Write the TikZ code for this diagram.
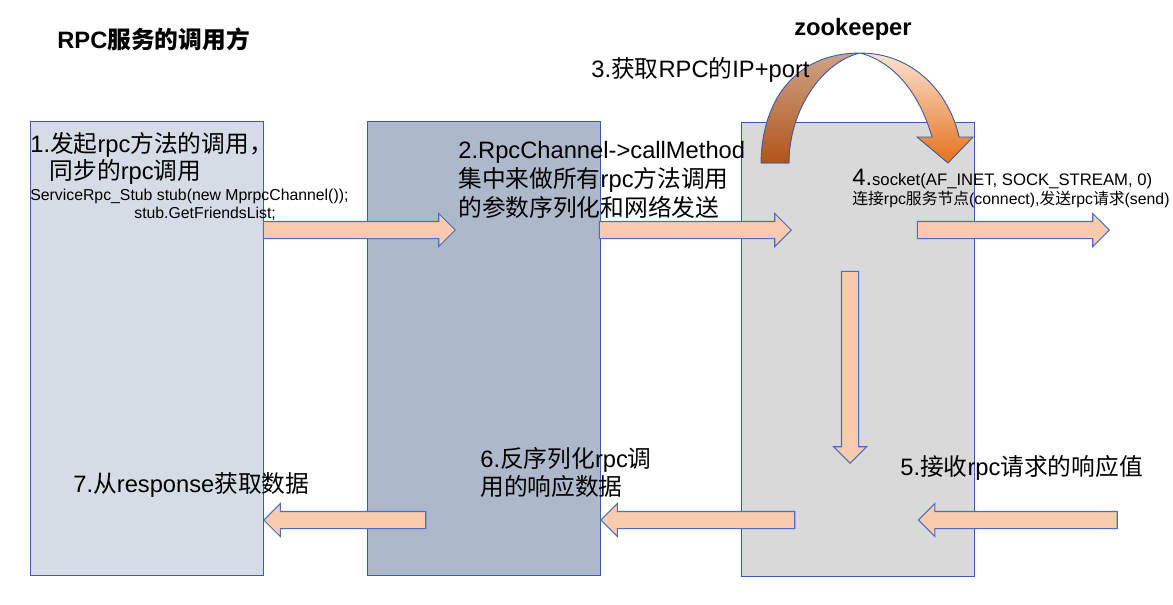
\documentclass[tikz,border=0pt]{standalone}
\usepackage{fontspec}
\setmainfont{Liberation Sans}
\newfontfamily\cjk{Noto Sans CJK SC}
\newcommand{\zh}[1]{{\cjk #1}}
\usetikzlibrary{shapes.arrows}
\definecolor{panelA}{HTML}{D6DCE5}
\definecolor{panelB}{HTML}{ADB9CA}
\definecolor{panelC}{HTML}{D9D9D9}
\definecolor{edgeblue}{HTML}{3B5CA8}
\definecolor{arrowfill}{HTML}{F8CBAD}
\definecolor{arrowedge}{HTML}{4A6FC0}
\definecolor{hopLtop}{HTML}{CDA487}
\definecolor{hopLbot}{HTML}{B2541A}
\definecolor{hopRtop}{HTML}{FBE3D0}
\definecolor{hopRbot}{HTML}{E5711C}

\begin{document}
\begin{tikzpicture}[x=0.02cm, y=-0.02cm,
  panel/.style={draw=edgeblue, line width=0.5pt, anchor=north west, minimum width=4.66cm, minimum height=9.08cm, inner sep=0pt},
  fatarrow/.style={single arrow, draw=arrowedge, fill=arrowfill, line width=0.6pt, inner xsep=0pt, inner ysep=0.16cm, single arrow head extend=0.16cm, single arrow tip angle=90},
  big/.style={font=\fontsize{13.5}{15.5}\selectfont, inner sep=0pt, anchor=base west, align=left},
  small/.style={font=\fontsize{9}{11}\selectfont, inner sep=0pt, anchor=base west}]
\useasboundingbox (0,0) rectangle (1173,605);
\fill[white] (0,0) rectangle (1173,605);

% the three stages
\node[panel, fill=panelA] (caller) at (30,121) {};
\node[panel, fill=panelB] (channel) at (367,121) {};
\node[panel, fill=panelC] (net) at (741,122) {};

% request going right
\node[fatarrow, minimum height=3.84cm] (go1) at (355,230) {};
\node[fatarrow, minimum height=3.84cm] (go2) at (691,230) {};
\node[fatarrow, minimum height=3.84cm] (go3) at (1009,230) {};
\node[fatarrow, minimum height=3.84cm, rotate=-90] (wait) at (850,363) {};
% response coming back
\node[fatarrow, minimum height=3.24cm, shape border rotate=180] (back1) at (349,520) {};
\node[fatarrow, minimum height=3.88cm, shape border rotate=180] (back2) at (702,520) {};
\node[fatarrow, minimum height=3.98cm, shape border rotate=180] (back3) at (1022,520) {};

% hop over zookeeper
\fill[top color=hopLtop, bottom color=hopLbot] (761,163) .. controls (762,95) and (800,53) .. (860,53) .. controls (822,62) and (789,110) .. (789,163) -- cycle;
\fill[top color=hopRtop, bottom color=hopRbot] (860,53) .. controls (915,53) and (950,95) .. (959,137) -- (973,137) -- (948,163) -- (917,137) -- (932,137) .. controls (920,95) and (895,62) .. (860,53) -- cycle;
\draw[edgeblue, line width=0.5pt] (761,163) .. controls (762,95) and (800,53) .. (860,53) .. controls (915,53) and (950,95) .. (959,137) -- (973,137) -- (948,163) -- (917,137) -- (932,137) .. controls (920,95) and (895,62) .. (860,53) .. controls (822,62) and (789,110) .. (789,163) -- cycle;

% labels (multi-line nodes sit on their last line)
\node[font=\fontsize{13.5}{16}\selectfont\bfseries, inner sep=0pt, anchor=base west] (title) at (57,49) {RPC\zh{服务的调用方}};
\node[font=\fontsize{13.5}{16}\selectfont\bfseries, inner sep=0pt, anchor=base] (zk) at (853,35) {zookeeper};
\node[big] (s3) at (591,77) {3.\zh{获取}RPC\zh{的}IP+port};
\node[big, font=\fontsize{13.5}{15.3}\selectfont] (s1) at (30,179) {1.\zh{发起}rpc\zh{方法的调用，}\\\hspace{11pt}\zh{同步的}rpc\zh{调用}};
\node[small] (stub1) at (30,200) {ServiceRpc\_Stub stub(new MprpcChannel());};
\node[small] (stub2) at (134,218) {stub.GetFriendsList;};
\node[big, font=\fontsize{13.5}{16.5}\selectfont] (s2) at (458,216) {2.RpcChannel-\textgreater callMethod\\\zh{集中来做所有}rpc\zh{方法调用}\\\zh{的参数序列化和网络发送}};
\node[big] (s4) at (852,185) {4.{\fontsize{9.5}{11}\selectfont socket(AF\_INET, SOCK\_STREAM, 0)}};
\node[small] (s4b) at (852,204) {\zh{连接}rpc\zh{服务节点}(connect),\zh{发送}rpc\zh{请求}(send)};
\node[big] (s5) at (900,475) {5.\zh{接收}rpc\zh{请求的响应值}};
\node[big, font=\fontsize{13.5}{15.9}\selectfont] (s6) at (480,495) {6.\zh{反序列化}rpc\zh{调}\\\zh{用的响应数据}};
\node[big] (s7) at (73,492) {7.\zh{从}response\zh{获取数据}};
\end{tikzpicture}
\end{document}
